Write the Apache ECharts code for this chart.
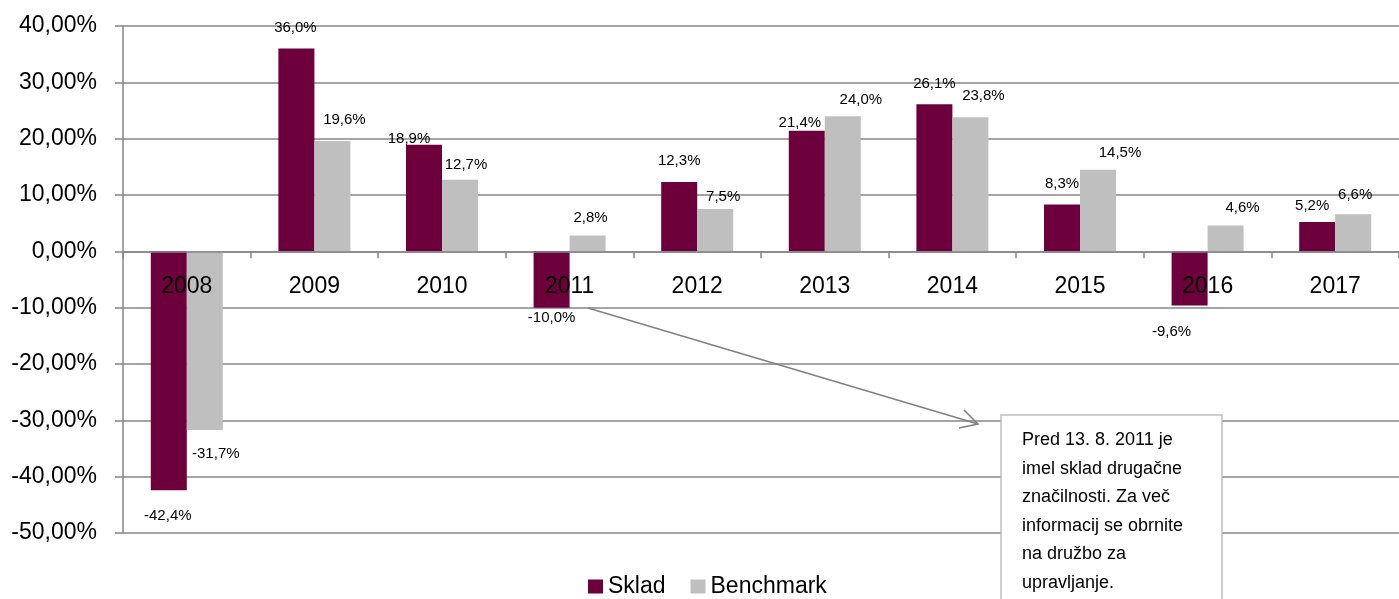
<!DOCTYPE html>
<html>
<head>
<meta charset="utf-8">
<script src="https://cdn.jsdelivr.net/npm/echarts@6/dist/echarts.min.js"></script>
<style>html,body{margin:0;padding:0;background:#fff}#c{width:1399px;height:599px}</style>
</head>
<body>
<div id="c"></div>
<script>
const categories = ['2008','2009','2010','2011','2012','2013','2014','2015','2016','2017'];
const skladValues = [-42.4, 36.0, 18.9, -10.0, 12.3, 21.4, 26.1, 8.3, -9.6, 5.2];
const benchmarkValues = [-31.7, 19.6, 12.7, 2.8, 7.5, 24.0, 23.8, 14.5, 4.6, 6.6];
const seriesNames = ['Sklad', 'Benchmark'];
const noteLines = ['Pred 13. 8. 2011 je', 'imel sklad drugačne', 'značilnosti. Za več', 'informacij se obrnite', 'na družbo za', 'upravljanje.'];

// label placement tweaks (style only): distance of label centre from bar end, and horizontal shift
const skladLabelDist = [26, 21, 6, 10, 21, 8, 20, 21, 26, 16];
const skladLabelShift = [-1, -1, -15, 0, 0, -7, 0, 0, -18, -5];
const benchLabelDist = [24, 21, 15, 18, 12, 16.5, 21.5, 17, 18, 19];
const benchLabelShift = [11, 12, 6, 3, 8, 18, 13, 22, 17, 2];

const FONT = '"Liberation Sans", Arial, sans-serif';
const fmt = v => v.toFixed(1).replace('.', ',') + '%';

function buildData(values, dist, shift) {
  return values.map((v, i) => ({
    value: v,
    label: {
      position: v >= 0 ? 'top' : 'bottom',
      offset: [shift[i], v >= 0 ? -(dist[i] - 8) : (dist[i] - 8)]
    }
  }));
}

const chart = echarts.init(document.getElementById('c'));
const labelBase = {
  show: true,
  distance: 0,
  fontSize: 15,
  lineHeight: 16,
  color: '#000',
  fontFamily: FONT,
  formatter: p => fmt(p.value)
};

chart.setOption({
  animation: false,
  backgroundColor: '#fff',
  grid: { left: 123, right: -5, top: 26, bottom: 66, containLabel: false },
  legend: {
    data: seriesNames,
    left: 583,
    top: 570,
    itemWidth: 15,
    itemHeight: 14,
    itemGap: 25,
    icon: 'rect',
    textStyle: { fontSize: 23, color: '#000', fontFamily: FONT }
  },
  xAxis: {
    type: 'category',
    data: categories,
    z: 5,
    axisLine: { onZero: true, lineStyle: { color: '#868686', width: 1.5 } },
    axisTick: { show: true, length: 7, lineStyle: { color: '#868686', width: 1.5 } },
    axisLabel: { fontSize: 23, color: '#000', fontFamily: FONT, margin: 24 }
  },
  yAxis: {
    type: 'value',
    min: -50,
    max: 40,
    interval: 10,
    axisLine: { show: true, lineStyle: { color: '#868686', width: 1.5 } },
    axisTick: { show: true, length: 8, lineStyle: { color: '#868686', width: 1.5 } },
    splitLine: { show: true, lineStyle: { color: '#868686', width: 1.5 } },
    axisLabel: {
      fontSize: 23, color: '#000', fontFamily: FONT, margin: 26,
      formatter: v => v.toFixed(2).replace('.', ',') + '%'
    }
  },
  series: [
    {
      name: seriesNames[0],
      type: 'bar',
      barWidth: 36,
      barGap: '0%',
      itemStyle: { color: '#6d003c' },
      label: labelBase,
      data: buildData(skladValues, skladLabelDist, skladLabelShift)
    },
    {
      name: seriesNames[1],
      type: 'bar',
      barWidth: 36,
      barGap: '0%',
      itemStyle: { color: '#bfbfbf' },
      label: labelBase,
      data: buildData(benchmarkValues, benchLabelDist, benchLabelShift)
    }
  ],
  graphic: [
    {
      type: 'polyline', z: 20,
      shape: { points: [[588, 308], [978, 424]] },
      style: { stroke: '#808080', lineWidth: 1.5, fill: null }
    },
    {
      type: 'polyline', z: 20,
      shape: { points: [[964, 410], [978, 424], [959, 428]] },
      style: { stroke: '#808080', lineWidth: 1.5, fill: null }
    },
    {
      type: 'rect', z: 20,
      shape: { x: 1001, y: 415, width: 221, height: 220 },
      style: { fill: '#fff', stroke: '#bfbfbf', lineWidth: 1.5 }
    },
    {
      type: 'text', z: 21,
      left: 1022, top: 426,
      style: {
        text: noteLines.join('\n'),
        fontSize: 18,
        lineHeight: 28.5,
        fontFamily: FONT,
        fill: '#000'
      }
    }
  ]
});

// Place x-axis labels relative to the zero line (as in the reference):
// shift the label margin by the pixel distance between the zero line and the grid bottom.
const zeroY = chart.convertToPixel({ yAxisIndex: 0 }, 0);
const bottomY = chart.convertToPixel({ yAxisIndex: 0 }, -50);
chart.setOption({ xAxis: { axisLabel: { margin: 24 - (bottomY - zeroY) } } });
</script>
</body>
</html>
